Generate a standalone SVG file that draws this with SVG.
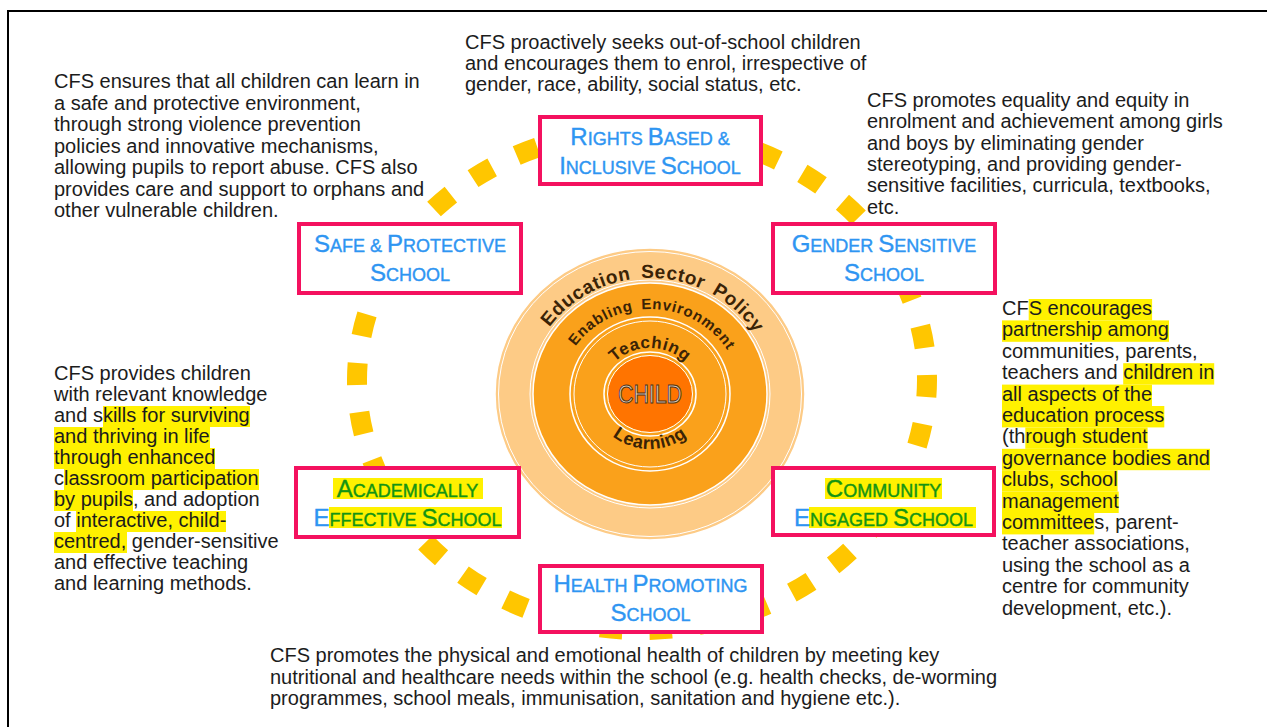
<svg xmlns="http://www.w3.org/2000/svg" width="1267" height="727" viewBox="0 0 1267 727">
<style>
  .t { font-family: "Liberation Sans", Arial, sans-serif; font-size: 20px; fill: #1c1c1c; }
  .hl { fill: #FFF100; }
  .box { fill: #ffffff; stroke: #F4115F; stroke-width: 4; }
  .bt { font-family: "Liberation Sans", Arial, sans-serif; font-size: 18px; text-anchor: middle; fill: #2E95F2; stroke: #2E95F2; stroke-width: 0.4; }
  .bt .b { font-size: 24px; }
  .g { fill: #149414; stroke: #149414; }
  .bl { fill: #2E95F2; stroke: #2E95F2; }
  .ct { font-family: "Liberation Sans", Arial, sans-serif; font-weight: bold; fill: #3A2306; }
  .wl { fill: none; stroke: #ffffff; }
</style>
<defs>
  <path id="pEdu" d="M527,394 A123,116 0 0 1 773,394"/>
  <path id="pEna" d="M560,394 A90,85 0 0 1 740,394"/>
  <path id="pTea" d="M601,394 A49,46 0 0 1 699,394"/>
  <path id="pLea" d="M592,394 A58,55 0 0 0 708,394"/>
</defs>

<rect x="0" y="0" width="1267" height="727" fill="#ffffff"/>
<path d="M8,727 V11 H1267" fill="none" stroke="#000" stroke-width="2"/>

<g id="connectors">
  <path d="M927,380 A285,250 0 1 1 357,380 A285,250 0 1 1 927,380" pathLength="1666" fill="none" stroke="#FFC600" stroke-width="20" stroke-dasharray="22 27" stroke-dashoffset="5"/>
</g>

<g id="center-circle">
  <ellipse cx="650" cy="394" rx="155" ry="146" fill="#FDCB86"/>
  <ellipse class="wl" cx="650" cy="394" rx="155" ry="146" stroke-width="1.5"/>
  <ellipse class="wl" cx="650" cy="394" rx="151.5" ry="142.5" stroke-width="1"/>
  <ellipse cx="650" cy="394" rx="117" ry="111" fill="#FAA11B"/>
  <ellipse class="wl" cx="650" cy="394" rx="120" ry="114" stroke-width="1"/>
  <ellipse class="wl" cx="650" cy="394" rx="117" ry="111" stroke-width="1.5"/>
  <ellipse class="wl" cx="650" cy="394" rx="80" ry="77" stroke-width="1.5"/>
  <ellipse class="wl" cx="650" cy="394" rx="76" ry="73" stroke-width="1"/>
  <ellipse cx="650" cy="394" rx="42" ry="38" fill="#FF7400"/>
  <ellipse class="wl" cx="650" cy="394" rx="46" ry="42" stroke-width="1.5"/>
  <ellipse class="wl" cx="650" cy="394" rx="42.5" ry="38.5" stroke-width="1"/>
  <text class="ct" font-size="19" letter-spacing="0.6" word-spacing="4"><textPath href="#pEdu" startOffset="51%" text-anchor="middle">Education Sector Policy</textPath></text>
  <text class="ct" font-size="15" letter-spacing="0.8" word-spacing="3"><textPath href="#pEna" startOffset="51%" text-anchor="middle">Enabling Environment</textPath></text>
  <text class="ct" font-size="17" letter-spacing="0.6"><textPath href="#pTea" startOffset="50%" text-anchor="middle">Teaching</textPath></text>
  <text class="ct" font-size="18" letter-spacing="0.6"><textPath href="#pLea" startOffset="50%" text-anchor="middle">Learning</textPath></text>
  <text x="650" y="403" font-family="'Liberation Sans', Arial, sans-serif" font-size="26" text-anchor="middle" textLength="64" lengthAdjust="spacingAndGlyphs" fill="#E2D3C2" stroke="#4A3218" stroke-width="1">CHILD</text>
</g>

<g id="node-rights">
  <rect class="box" x="540" y="117" width="221" height="67"/>
  <text class="bt" x="650" y="145"><tspan class="b">R</tspan>IGHTS <tspan class="b">B</tspan>ASED &amp;</text>
  <text class="bt" x="650" y="173.5"><tspan class="b">I</tspan>NCLUSIVE <tspan class="b">S</tspan>CHOOL</text>
</g>

<g id="node-safe">
  <rect class="box" x="299" y="224" width="222" height="69"/>
  <text class="bt" x="410" y="252"><tspan class="b">S</tspan>AFE &amp; <tspan class="b">P</tspan>ROTECTIVE</text>
  <text class="bt" x="410" y="280.5"><tspan class="b">S</tspan>CHOOL</text>
</g>

<g id="node-gender">
  <rect class="box" x="773" y="224" width="222" height="69"/>
  <text class="bt" x="884" y="252"><tspan class="b">G</tspan>ENDER <tspan class="b">S</tspan>ENSITIVE</text>
  <text class="bt" x="884" y="280.5"><tspan class="b">S</tspan>CHOOL</text>
</g>

<g id="node-academic">
  <rect class="box" x="296" y="468" width="223" height="69"/>
  <rect class="hl" x="333" y="478" width="150" height="21"/>
  <rect class="hl" x="329" y="507" width="173" height="21"/>
  <text class="bt g" x="407.5" y="497"><tspan class="b">A</tspan>CADEMICALLY</text>
  <text class="bt g" x="407.5" y="525.5"><tspan class="b bl">E</tspan>FFECTIVE <tspan class="b">S</tspan>CHOOL</text>
</g>

<g id="node-community">
  <rect class="box" x="773" y="468" width="221" height="67"/>
  <rect class="hl" x="825" y="478" width="117" height="21"/>
  <rect class="hl" x="809" y="507" width="167" height="21"/>
  <text class="bt g" x="883.5" y="497"><tspan class="b">C</tspan>OMMUNITY</text>
  <text class="bt g" x="883.5" y="525.5"><tspan class="b bl">E</tspan>NGAGED <tspan class="b">S</tspan>CHOOL</text>
</g>

<g id="node-health">
  <rect class="box" x="540" y="566" width="222" height="66"/>
  <text class="bt" x="650.5" y="592"><tspan class="b">H</tspan>EALTH <tspan class="b">P</tspan>ROMOTING</text>
  <text class="bt" x="650.5" y="620.5"><tspan class="b">S</tspan>CHOOL</text>
</g>

<g id="text-top">
  <text class="t">
    <tspan x="465" y="49">CFS proactively seeks out-of-school children</tspan>
    <tspan x="465" y="70">and encourages them to enrol, irrespective of</tspan>
    <tspan x="465" y="91">gender, race, ability, social status, etc.</tspan>
  </text>
</g>

<g id="text-top-left">
  <text class="t">
    <tspan x="54" y="88">CFS ensures that all children can learn in</tspan>
    <tspan x="54" y="109.5">a safe and protective environment,</tspan>
    <tspan x="54" y="131">through strong violence prevention</tspan>
    <tspan x="54" y="152.5">policies and innovative mechanisms,</tspan>
    <tspan x="54" y="174">allowing pupils to report abuse. CFS also</tspan>
    <tspan x="54" y="195.5">provides care and support to orphans and</tspan>
    <tspan x="54" y="217">other vulnerable children.</tspan>
  </text>
</g>

<g id="text-top-right">
  <text class="t">
    <tspan x="867" y="107">CFS promotes equality and equity in</tspan>
    <tspan x="867" y="128.3">enrolment and achievement among girls</tspan>
    <tspan x="867" y="149.6">and boys by eliminating gender</tspan>
    <tspan x="867" y="170.9">stereotyping, and providing gender-</tspan>
    <tspan x="867" y="192.2">sensitive facilities, curricula, textbooks,</tspan>
    <tspan x="867" y="213.5">etc.</tspan>
  </text>
</g>

<g id="text-left">
  <rect class="hl" x="103" y="406" width="147" height="21"/>
  <rect class="hl" x="54" y="427" width="156" height="21"/>
  <rect class="hl" x="54" y="448" width="161" height="21"/>
  <rect class="hl" x="64" y="469" width="195" height="21"/>
  <rect class="hl" x="54" y="490" width="79" height="21"/>
  <rect class="hl" x="76" y="511" width="150" height="21"/>
  <rect class="hl" x="54" y="532" width="73" height="21"/>
  <text class="t">
    <tspan x="54" y="380">CFS provides children</tspan>
    <tspan x="54" y="401">with relevant knowledge</tspan>
    <tspan x="54" y="422">and skills for surviving</tspan>
    <tspan x="54" y="443">and thriving in life</tspan>
    <tspan x="54" y="464">through enhanced</tspan>
    <tspan x="54" y="485">classroom participation</tspan>
    <tspan x="54" y="506">by pupils, and adoption</tspan>
    <tspan x="54" y="527">of interactive, child-</tspan>
    <tspan x="54" y="548">centred, gender-sensitive</tspan>
    <tspan x="54" y="569">and effective teaching</tspan>
    <tspan x="54" y="590">and learning methods.</tspan>
  </text>
</g>

<g id="text-right">
  <rect class="hl" x="1028.7" y="299" width="123.4" height="21.4"/>
  <rect class="hl" x="1002" y="320.4" width="167" height="21.4"/>
  <rect class="hl" x="1123.2" y="363.2" width="91" height="21.4"/>
  <rect class="hl" x="1002" y="384.6" width="150" height="21.4"/>
  <rect class="hl" x="1002" y="406" width="162.3" height="21.4"/>
  <rect class="hl" x="1025.3" y="427.4" width="122.3" height="21.4"/>
  <rect class="hl" x="1002" y="448.8" width="208" height="21.4"/>
  <rect class="hl" x="1002" y="470.2" width="115.6" height="21.4"/>
  <rect class="hl" x="1002" y="491.6" width="116.7" height="21.4"/>
  <rect class="hl" x="1002" y="513" width="92.2" height="21.4"/>
  <text class="t">
    <tspan x="1002" y="315">CFS encourages</tspan>
    <tspan x="1002" y="336.4">partnership among</tspan>
    <tspan x="1002" y="357.8">communities, parents,</tspan>
    <tspan x="1002" y="379.2">teachers and children in</tspan>
    <tspan x="1002" y="400.6">all aspects of the</tspan>
    <tspan x="1002" y="422">education process</tspan>
    <tspan x="1002" y="443.4">(through student</tspan>
    <tspan x="1002" y="464.8">governance bodies and</tspan>
    <tspan x="1002" y="486.2">clubs, school</tspan>
    <tspan x="1002" y="507.6">management</tspan>
    <tspan x="1002" y="529">committees, parent-</tspan>
    <tspan x="1002" y="550.4">teacher associations,</tspan>
    <tspan x="1002" y="571.8">using the school as a</tspan>
    <tspan x="1002" y="593.2">centre for community</tspan>
    <tspan x="1002" y="614.6">development, etc.).</tspan>
  </text>
</g>

<g id="text-bottom">
  <text class="t">
    <tspan x="270" y="662">CFS promotes the physical and emotional health of children by meeting key</tspan>
    <tspan x="270" y="683.5">nutritional and healthcare needs within the school (e.g. health checks, de-worming</tspan>
    <tspan x="270" y="705">programmes, school meals, immunisation, sanitation and hygiene etc.).</tspan>
  </text>
</g>
</svg>
